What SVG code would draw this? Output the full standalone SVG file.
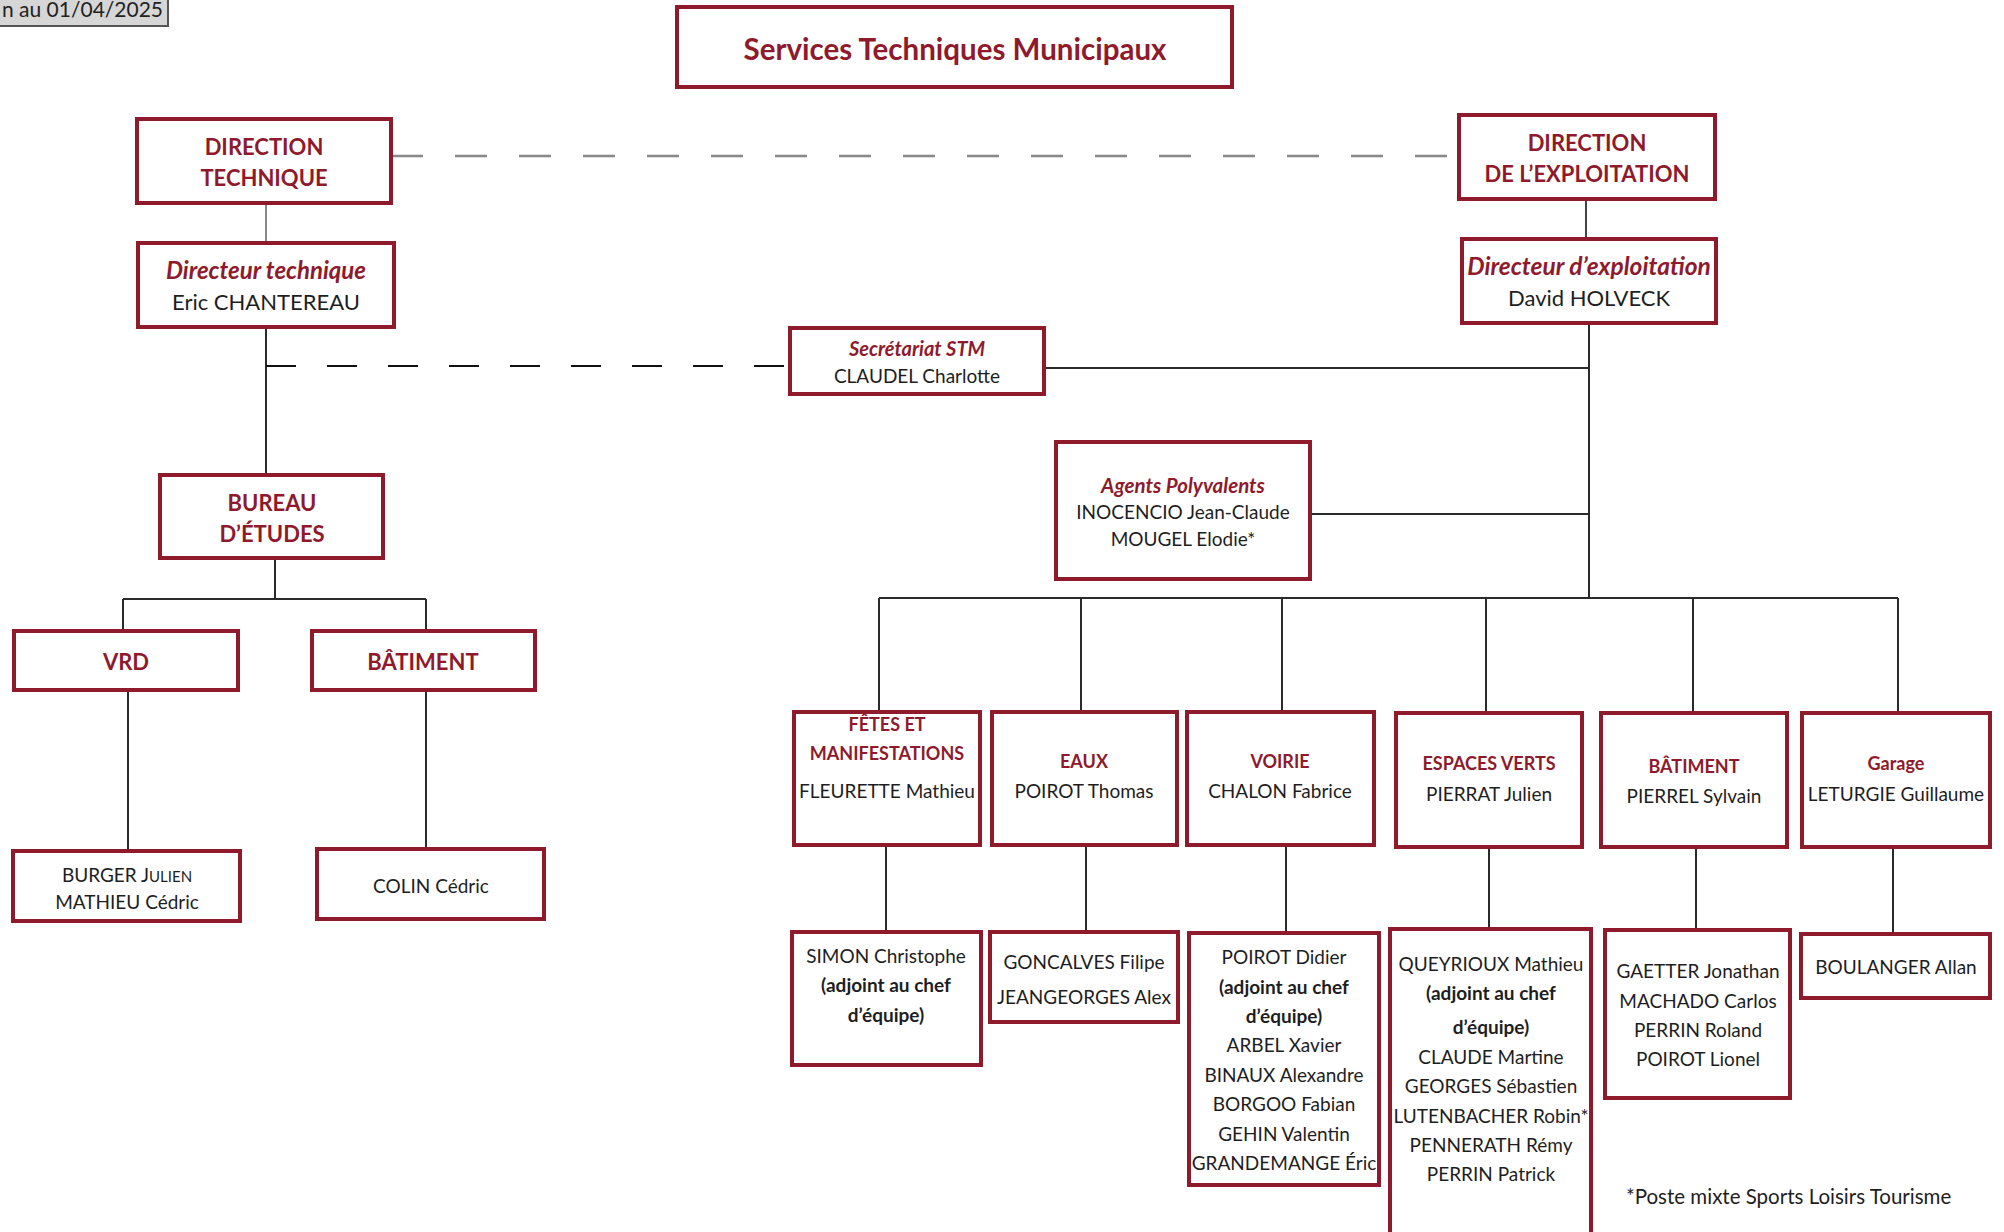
<svg xmlns="http://www.w3.org/2000/svg" width="2004" height="1232" viewBox="0 0 2004 1232">
<style>
.box{fill:#fff;stroke:#8e1a2c;stroke-width:4}
.t{font-family:Lato,"Liberation Sans",sans-serif;text-anchor:middle;fill:#1e1e1e}
.h{font-weight:bold;fill:#8e1a2c}
.hi{font-weight:bold;font-style:italic;fill:#8e1a2c}
.b{font-weight:bold}
.ln{stroke:#2a2a2a;stroke-width:2;fill:none}
</style>
<rect width="2004" height="1232" fill="#fff"/>
<g id="date-label">
<rect x="-4" y="-4" width="172" height="30" fill="#d6d6d6" stroke="#555" stroke-width="2"/>
<text x="2" y="17" font-family="Lato,'Liberation Sans',sans-serif" font-size="21" fill="#222">n au 01/04/2025</text>
</g>
<g id="connectors">
<line x1="391" y1="156" x2="1459" y2="156" stroke="#888" stroke-width="2.5" stroke-dasharray="32 32"/>
<line x1="266" y1="203" x2="266" y2="243" stroke="#888" stroke-width="2"/>
<line x1="1586" y1="199" x2="1586" y2="239" stroke="#444" stroke-width="2"/>
<line x1="266" y1="327" x2="266" y2="475" class="ln"/>
<line x1="266" y1="366" x2="790" y2="366" stroke="#111" stroke-width="2" stroke-dasharray="30 31"/>
<line x1="1044" y1="368" x2="1589" y2="368" class="ln"/>
<line x1="1589" y1="323" x2="1589" y2="598" class="ln"/>
<line x1="1310" y1="514" x2="1589" y2="514" class="ln"/>
<line x1="275" y1="558" x2="275" y2="599" class="ln"/>
<line x1="123" y1="599" x2="426" y2="599" class="ln"/>
<line x1="123" y1="599" x2="123" y2="631" class="ln"/>
<line x1="426" y1="599" x2="426" y2="631" class="ln"/>
<line x1="128" y1="690" x2="128" y2="851" class="ln"/>
<line x1="426" y1="690" x2="426" y2="849" class="ln"/>
<line x1="879" y1="598" x2="1898" y2="598" class="ln"/>
<line x1="879" y1="598" x2="879" y2="712" class="ln"/>
<line x1="1081" y1="598" x2="1081" y2="712" class="ln"/>
<line x1="1282" y1="598" x2="1282" y2="712" class="ln"/>
<line x1="1486" y1="598" x2="1486" y2="713" class="ln"/>
<line x1="1693" y1="598" x2="1693" y2="713" class="ln"/>
<line x1="1898" y1="598" x2="1898" y2="713" class="ln"/>
<line x1="886" y1="845" x2="886" y2="932" class="ln"/>
<line x1="1086" y1="845" x2="1086" y2="932" class="ln"/>
<line x1="1286" y1="845" x2="1286" y2="933" class="ln"/>
<line x1="1489" y1="847" x2="1489" y2="929" class="ln"/>
<line x1="1696" y1="847" x2="1696" y2="930" class="ln"/>
<line x1="1893" y1="847" x2="1893" y2="934" class="ln"/>
</g>
<g id="title">
<rect class="box" x="677" y="7" width="555" height="80"/>
<text class="t h" x="955" y="60" font-size="29.5">Services Techniques Municipaux</text>
</g>
<g id="direction-technique">
<rect class="box" x="137" y="119" width="254" height="84"/>
<text class="t h" x="264" y="155" font-size="22">DIRECTION</text>
<text class="t h" x="264" y="186" font-size="22">TECHNIQUE</text>
</g>
<g id="direction-exploitation">
<rect class="box" x="1459" y="115" width="256" height="84"/>
<text class="t h" x="1587" y="151" font-size="22">DIRECTION</text>
<text class="t h" x="1587" y="182" font-size="22">DE L’EXPLOITATION</text>
</g>
<g id="directeur-technique">
<rect class="box" x="138" y="243" width="256" height="84"/>
<text class="t hi" x="266" y="279" font-size="24">Directeur technique</text>
<text class="t" x="266" y="310" font-size="22">Eric CHANTEREAU</text>
</g>
<g id="directeur-exploitation">
<rect class="box" x="1462" y="239" width="254" height="84"/>
<text class="t hi" x="1589" y="275" font-size="24.5">Directeur d’exploitation</text>
<text class="t" x="1589" y="306" font-size="22">David HOLVECK</text>
</g>
<g id="secretariat">
<rect class="box" x="790" y="328" width="254" height="66"/>
<text class="t hi" x="917" y="356" font-size="20">Secrétariat STM</text>
<text class="t" x="917" y="383" font-size="19">CLAUDEL Charlotte</text>
</g>
<g id="bureau-etudes">
<rect class="box" x="160" y="475" width="223" height="83"/>
<text class="t h" x="272" y="511" font-size="22">BUREAU</text>
<text class="t h" x="272" y="542" font-size="22">D’ÉTUDES</text>
</g>
<g id="vrd">
<rect class="box" x="14" y="631" width="224" height="59"/>
<text class="t h" x="126" y="670" font-size="22">VRD</text>
</g>
<g id="batiment-be">
<rect class="box" x="312" y="631" width="223" height="59"/>
<text class="t h" x="423" y="670" font-size="22">BÂTIMENT</text>
</g>
<g id="vrd-members">
<rect class="box" x="13" y="851" width="227" height="70"/>
<text class="t" x="127" y="882" font-size="19">BURGER J<tspan font-size="15">ULIEN</tspan></text>
<text class="t" x="127" y="909" font-size="19">MATHIEU Cédric</text>
</g>
<g id="batiment-be-members">
<rect class="box" x="317" y="849" width="227" height="70"/>
<text class="t" x="431" y="893" font-size="19">COLIN Cédric</text>
</g>
<g id="agents-polyvalents">
<rect class="box" x="1056" y="442" width="254" height="137"/>
<text class="t hi" x="1183" y="493" font-size="20.5">Agents Polyvalents</text>
<text class="t" x="1183" y="519" font-size="19">INOCENCIO Jean-Claude</text>
<text class="t" x="1183" y="546" font-size="19">MOUGEL Elodie*</text>
</g>
<g id="fetes">
<rect class="box" x="794" y="712" width="186" height="133"/>
<text class="t h" x="887" y="731" font-size="18">FÊTES ET</text>
<text class="t h" x="887" y="760" font-size="18">MANIFESTATIONS</text>
<text class="t" x="887" y="798" font-size="19">FLEURETTE Mathieu</text>
</g>
<g id="eaux">
<rect class="box" x="992" y="712" width="185" height="133"/>
<text class="t h" x="1084" y="768" font-size="18">EAUX</text>
<text class="t" x="1084" y="798" font-size="19">POIROT Thomas</text>
</g>
<g id="voirie">
<rect class="box" x="1187" y="712" width="187" height="133"/>
<text class="t h" x="1280" y="768" font-size="18">VOIRIE</text>
<text class="t" x="1280" y="798" font-size="19">CHALON Fabrice</text>
</g>
<g id="espaces-verts">
<rect class="box" x="1396" y="713" width="186" height="134"/>
<text class="t h" x="1489" y="770" font-size="18">ESPACES VERTS</text>
<text class="t" x="1489" y="801" font-size="19">PIERRAT Julien</text>
</g>
<g id="batiment">
<rect class="box" x="1601" y="713" width="186" height="134"/>
<text class="t h" x="1694" y="773" font-size="18">BÂTIMENT</text>
<text class="t" x="1694" y="803" font-size="19">PIERREL Sylvain</text>
</g>
<g id="garage">
<rect class="box" x="1802" y="713" width="188" height="134"/>
<text class="t h" x="1896" y="770" font-size="18">Garage</text>
<text class="t" x="1896" y="801" font-size="19">LETURGIE Guillaume</text>
</g>
<g id="fetes-members">
<rect class="box" x="792" y="932" width="189" height="133"/>
<text class="t" x="886" y="963" font-size="19">SIMON Christophe</text>
<text class="t b" x="886" y="992" font-size="19">(adjoint au chef</text>
<text class="t b" x="886" y="1022" font-size="19">d’équipe)</text>
</g>
<g id="eaux-members">
<rect class="box" x="990" y="932" width="188" height="90"/>
<text class="t" x="1084" y="969" font-size="19">GONCALVES Filipe</text>
<text class="t" x="1084" y="1004" font-size="19">JEANGEORGES Alex</text>
</g>
<g id="voirie-members">
<rect class="box" x="1189" y="933" width="190" height="252"/>
<text class="t" x="1284" y="964" font-size="19">POIROT Didier</text>
<text class="t b" x="1284" y="994" font-size="19">(adjoint au chef</text>
<text class="t b" x="1284" y="1023" font-size="19">d’équipe)</text>
<text class="t" x="1284" y="1052" font-size="19">ARBEL Xavier</text>
<text class="t" x="1284" y="1082" font-size="19">BINAUX Alexandre</text>
<text class="t" x="1284" y="1111" font-size="19">BORGOO Fabian</text>
<text class="t" x="1284" y="1141" font-size="19">GEHIN Valentin</text>
<text class="t" x="1284" y="1170" font-size="19">GRANDEMANGE Éric</text>
</g>
<g id="espaces-verts-members">
<rect class="box" x="1390" y="929" width="201" height="312"/>
<text class="t" x="1491" y="971" font-size="19">QUEYRIOUX Mathieu</text>
<text class="t b" x="1491" y="1000" font-size="19">(adjoint au chef</text>
<text class="t b" x="1491" y="1034" font-size="19">d’équipe)</text>
<text class="t" x="1491" y="1064" font-size="19">CLAUDE Martine</text>
<text class="t" x="1491" y="1093" font-size="19">GEORGES Sébastien</text>
<text class="t" x="1491" y="1123" font-size="19">LUTENBACHER Robin*</text>
<text class="t" x="1491" y="1152" font-size="19">PENNERATH Rémy</text>
<text class="t" x="1491" y="1181" font-size="19">PERRIN Patrick</text>
</g>
<g id="batiment-members">
<rect class="box" x="1605" y="930" width="185" height="168"/>
<text class="t" x="1698" y="978" font-size="19">GAETTER Jonathan</text>
<text class="t" x="1698" y="1008" font-size="19">MACHADO Carlos</text>
<text class="t" x="1698" y="1037" font-size="19">PERRIN Roland</text>
<text class="t" x="1698" y="1066" font-size="19">POIROT Lionel</text>
</g>
<g id="garage-members">
<rect class="box" x="1801" y="934" width="189" height="64"/>
<text class="t" x="1896" y="974" font-size="19">BOULANGER Allan</text>
</g>
<g id="footnote">
<text x="1626" y="1204" font-family="Lato,'Liberation Sans',sans-serif" font-size="20.5" fill="#1e1e1e">*Poste mixte Sports Loisirs Tourisme</text>
</g>
</svg>
